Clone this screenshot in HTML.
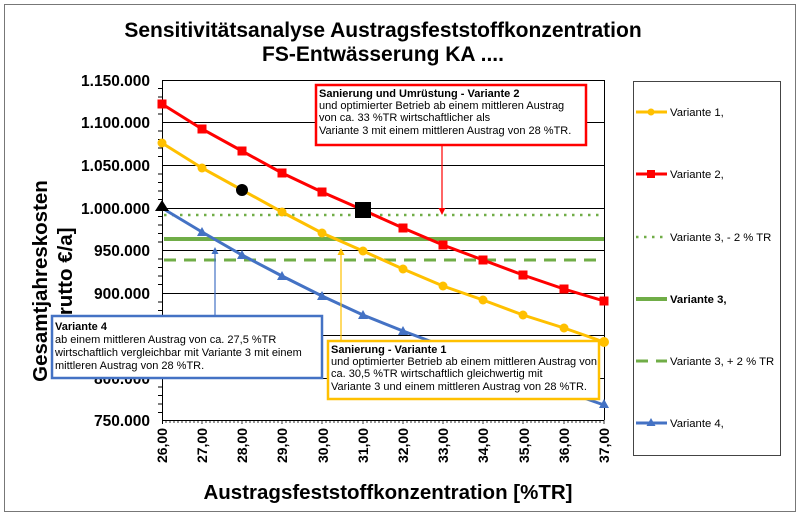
<!DOCTYPE html>
<html><head><meta charset="utf-8"><style>
body{margin:0;background:#fff}
svg{display:block;font-family:"Liberation Sans",Arial,sans-serif}
</style></head><body>
<svg width="800" height="516" viewBox="0 0 800 516" xmlns="http://www.w3.org/2000/svg">
<rect x="0" y="0" width="800" height="516" fill="#fff"/>
<rect x="4.5" y="4.5" width="791" height="507" fill="none" stroke="#777" stroke-width="1"/>
<text x="383" y="37" text-anchor="middle" font-size="21" font-weight="bold">Sensitivitätsanalyse Austragsfeststoffkonzentration</text>
<text x="383" y="61" text-anchor="middle" font-size="21" font-weight="bold">FS-Entwässerung KA ....</text>
<g stroke="#000" stroke-width="1">
<line x1="162" y1="80.5" x2="604" y2="80.5"/>
<line x1="162" y1="122.5" x2="604" y2="122.5"/>
<line x1="162" y1="165.5" x2="604" y2="165.5"/>
<line x1="162" y1="208.5" x2="604" y2="208.5"/>
<line x1="162" y1="250.5" x2="604" y2="250.5"/>
<line x1="162" y1="293.5" x2="604" y2="293.5"/>
<line x1="162" y1="335.5" x2="604" y2="335.5"/>
<line x1="162" y1="378.5" x2="604" y2="378.5"/>
<line x1="162" y1="420.5" x2="604" y2="420.5"/>
<line x1="604.5" y1="80" x2="604.5" y2="420"/>
<line x1="162.5" y1="80" x2="162.5" y2="424"/>
</g>
<g stroke="#000" stroke-width="1">
<path d="M158 88.5h4M158 97h4M158 105.5h4M158 114h4M158 131h4M158 139.5h4M158 148h4M158 156.5h4M158 174h4M158 182.5h4M158 191h4M158 199.5h4M158 216.5h4M158 225h4M158 233.5h4M158 242h4M158 259h4M158 267.5h4M158 276h4M158 284.5h4M158 302h4M158 310.5h4M158 319h4M158 327.5h4M158 344.5h4M158 353h4M158 361.5h4M158 370h4M158 387h4M158 395.5h4M158 404h4M158 412.5h4"/>
</g>
<g stroke="#000" stroke-width="0.8">
<path d="M166 420v3M170 420v3M174 420v3M178 420v3M182 420v3M186 420v3M190 420v3M194 420v3M198 420v3M202 420v4M206 420v3M210 420v3M214 420v3M218 420v3M222 420v3M226 420v3M230 420v3M234 420v3M238 420v3M242 420v4M246 420v3M250 420v3M254 420v3M258 420v3M262 420v3M266 420v3M270 420v3M274 420v3M278 420v3M282 420v4M286 420v3M290 420v3M294 420v3M298 420v3M302 420v3M306 420v3M310 420v3M314 420v3M318 420v3M322 420v4M326 420v3M330 420v3M334 420v3M338 420v3M342 420v3M346 420v3M350 420v3M354 420v3M358 420v3M363 420v4M367 420v3M371 420v3M375 420v3M379 420v3M383 420v3M387 420v3M391 420v3M395 420v3M399 420v3M403 420v4M407 420v3M411 420v3M415 420v3M419 420v3M423 420v3M427 420v3M431 420v3M435 420v3M439 420v3M443 420v4M447 420v3M451 420v3M455 420v3M459 420v3M463 420v3M467 420v3M471 420v3M475 420v3M479 420v3M483 420v4M487 420v3M491 420v3M495 420v3M499 420v3M503 420v3M507 420v3M511 420v3M515 420v3M519 420v3M523 420v4M527 420v3M531 420v3M535 420v3M539 420v3M543 420v3M547 420v3M551 420v3M555 420v3M559 420v3M564 420v4M568 420v3M572 420v3M576 420v3M580 420v3M584 420v3M588 420v3M592 420v3M596 420v3M600 420v3M604 420v4"/>
</g>
<g font-size="15.5" font-weight="bold" text-anchor="end">
<text x="150" y="86">1.150.000</text>
<text x="150" y="128">1.100.000</text>
<text x="150" y="171">1.050.000</text>
<text x="150" y="214">1.000.000</text>
<text x="150" y="256">950.000</text>
<text x="150" y="299">900.000</text>
<text x="150" y="384">800.000</text>
<text x="150" y="426">750.000</text>
</g>
<g font-size="20.5" font-weight="bold" text-anchor="middle">
<text transform="translate(47,281) rotate(-90)">Gesamtjahreskosten</text>
<text transform="translate(72,281) rotate(-90)">[brutto €/a]</text>
<text x="388" y="499">Austragsfeststoffkonzentration [%TR]</text>
</g>
<g font-size="14" font-weight="bold" text-anchor="end">
<text transform="translate(167,428) rotate(-90)">26,00</text>
<text transform="translate(207,428) rotate(-90)">27,00</text>
<text transform="translate(247,428) rotate(-90)">28,00</text>
<text transform="translate(287,428) rotate(-90)">29,00</text>
<text transform="translate(328,428) rotate(-90)">30,00</text>
<text transform="translate(368,428) rotate(-90)">31,00</text>
<text transform="translate(408,428) rotate(-90)">32,00</text>
<text transform="translate(448,428) rotate(-90)">33,00</text>
<text transform="translate(488,428) rotate(-90)">34,00</text>
<text transform="translate(529,428) rotate(-90)">35,00</text>
<text transform="translate(569,428) rotate(-90)">36,00</text>
<text transform="translate(609,428) rotate(-90)">37,00</text>
</g>
<line x1="164" y1="215" x2="604" y2="215" stroke="#70ad47" stroke-width="2.5" stroke-dasharray="2.5 5.5"/>
<line x1="164" y1="239" x2="604" y2="239" stroke="#70ad47" stroke-width="4"/>
<line x1="164" y1="260" x2="604" y2="260" stroke="#70ad47" stroke-width="3" stroke-dasharray="12 8"/>
<polyline fill="none" stroke="#ffc000" stroke-width="3" points="162,143 202,168 242,190 282,212 322,233 363,251 403,269 443,286 483,300 523,315 564,328 604,342"/>
<g fill="#ffc000"><circle cx="162" cy="143" r="4.5"/><circle cx="202" cy="168" r="4.5"/><circle cx="282" cy="212" r="4.5"/><circle cx="322" cy="233" r="4.5"/><circle cx="363" cy="251" r="4.5"/><circle cx="403" cy="269" r="4.5"/><circle cx="443" cy="286" r="4.5"/><circle cx="483" cy="300" r="4.5"/><circle cx="523" cy="315" r="4.5"/><circle cx="564" cy="328" r="4.5"/><circle cx="604" cy="342" r="5"/></g>
<circle cx="242" cy="190" r="6" fill="#000"/>
<polyline fill="none" stroke="#ff0000" stroke-width="3" points="162,104 202,129 242,151 282,173 322,192 363,210 403,228 443,245 483,260 523,275 564,289 604,301"/>
<g fill="#ff0000"><rect x="157.5" y="99.5" width="9" height="9"/><rect x="197.5" y="124.5" width="9" height="9"/><rect x="237.5" y="146.5" width="9" height="9"/><rect x="277.5" y="168.5" width="9" height="9"/><rect x="317.5" y="187.5" width="9" height="9"/><rect x="398.5" y="223.5" width="9" height="9"/><rect x="438.5" y="240.5" width="9" height="9"/><rect x="478.5" y="255.5" width="9" height="9"/><rect x="518.5" y="270.5" width="9" height="9"/><rect x="559.5" y="284.5" width="9" height="9"/><rect x="599.5" y="296.5" width="9" height="9"/></g>
<rect x="355" y="202" width="16" height="16" fill="#000"/>
<polyline fill="none" stroke="#4472c4" stroke-width="3" points="162,208 202,232 242,255 282,276 322,296 363,315 403,331 443,346 483,361 523,377 564,391 604,405"/>
<g fill="#4472c4"><path d="M202 227l5 9h-10z"/><path d="M242 250l5 9h-10z"/><path d="M282 271l5 9h-10z"/><path d="M322 291l5 9h-10z"/><path d="M363 310l5 9h-10z"/><path d="M403 326l5 9h-10z"/><path d="M604 399l5 9h-10z"/></g>
<path d="M162 200l7 11h-14z" fill="#000"/>
<line x1="442" y1="145" x2="442" y2="210" stroke="#ff0000" stroke-width="1.2"/>
<path d="M438.5 208l3.5 7 3.5-7z" fill="#ff0000"/>
<rect x="316" y="85" width="270" height="60" fill="#fff" stroke="#ff0000" stroke-width="2.5"/>
<g font-size="11">
<text x="319" y="97" font-weight="bold">Sanierung und Umrüstung - Variante 2</text>
<text x="319" y="109">und optimierter Betrieb  ab einem mittleren Austrag</text>
<text x="319" y="121">von ca. 33 %TR wirtschaftlicher als</text>
<text x="319" y="134">Variante 3 mit einem mittleren Austrag von 28 %TR.</text>
</g>
<line x1="341" y1="340" x2="341" y2="253" stroke="#ffc000" stroke-width="1.2"/>
<path d="M337.5 255l3.5-7 3.5 7z" fill="#ffc000"/>
<rect x="328" y="341" width="271" height="58" fill="#fff" stroke="#ffc000" stroke-width="2.5"/>
<g font-size="11">
<text x="331" y="353" font-weight="bold">Sanierung - Variante 1</text>
<text x="331" y="365">und optimierter Betrieb ab einem mittleren Austrag von</text>
<text x="331" y="377">ca. 30,5 %TR wirtschaftlich gleichwertig mit</text>
<text x="331" y="390">Variante 3 und einem mittleren Austrag von 28 %TR.</text>
</g>
<line x1="215" y1="315" x2="215" y2="252" stroke="#4472c4" stroke-width="1.2"/>
<path d="M211.5 254l3.5-7 3.5 7z" fill="#4472c4"/>
<rect x="52" y="316" width="270" height="62" fill="#fff" stroke="#4472c4" stroke-width="2.5"/>
<g font-size="11">
<text x="55" y="330" font-weight="bold">Variante 4</text>
<text x="55" y="343">ab einem mittleren Austrag von ca. 27,5 %TR</text>
<text x="55" y="356">wirtschaftlich vergleichbar mit Variante 3 mit einem</text>
<text x="55" y="369">mittleren Austrag von 28 %TR.</text>
</g>
<rect x="633.5" y="81.5" width="147" height="374" fill="#fff" stroke="#444" stroke-width="1"/>
<g font-size="11.3">
<line x1="636" y1="112" x2="667" y2="112" stroke="#ffc000" stroke-width="3"/><circle cx="651" cy="112" r="3.5" fill="#ffc000"/>
<text x="670" y="116">Variante 1,</text>
<line x1="636" y1="174" x2="667" y2="174" stroke="#ff0000" stroke-width="3"/><rect x="647" y="170" width="8" height="8" fill="#ff0000"/>
<text x="670" y="178">Variante 2,</text>
<line x1="636" y1="237" x2="667" y2="237" stroke="#70ad47" stroke-width="2.5" stroke-dasharray="2.5 5.5"/>
<text x="670" y="241">Variante 3, - 2 % TR</text>
<line x1="636" y1="299" x2="667" y2="299" stroke="#70ad47" stroke-width="4"/>
<text x="670" y="303" font-weight="bold">Variante 3,</text>
<line x1="636" y1="361" x2="667" y2="361" stroke="#70ad47" stroke-width="3" stroke-dasharray="12 8"/>
<text x="670" y="365">Variante 3, + 2 % TR</text>
<line x1="636" y1="423" x2="667" y2="423" stroke="#4472c4" stroke-width="3"/><path d="M651 418l4.5 8h-9z" fill="#4472c4"/>
<text x="670" y="427">Variante 4,</text>
</g>
</svg>
</body></html>
